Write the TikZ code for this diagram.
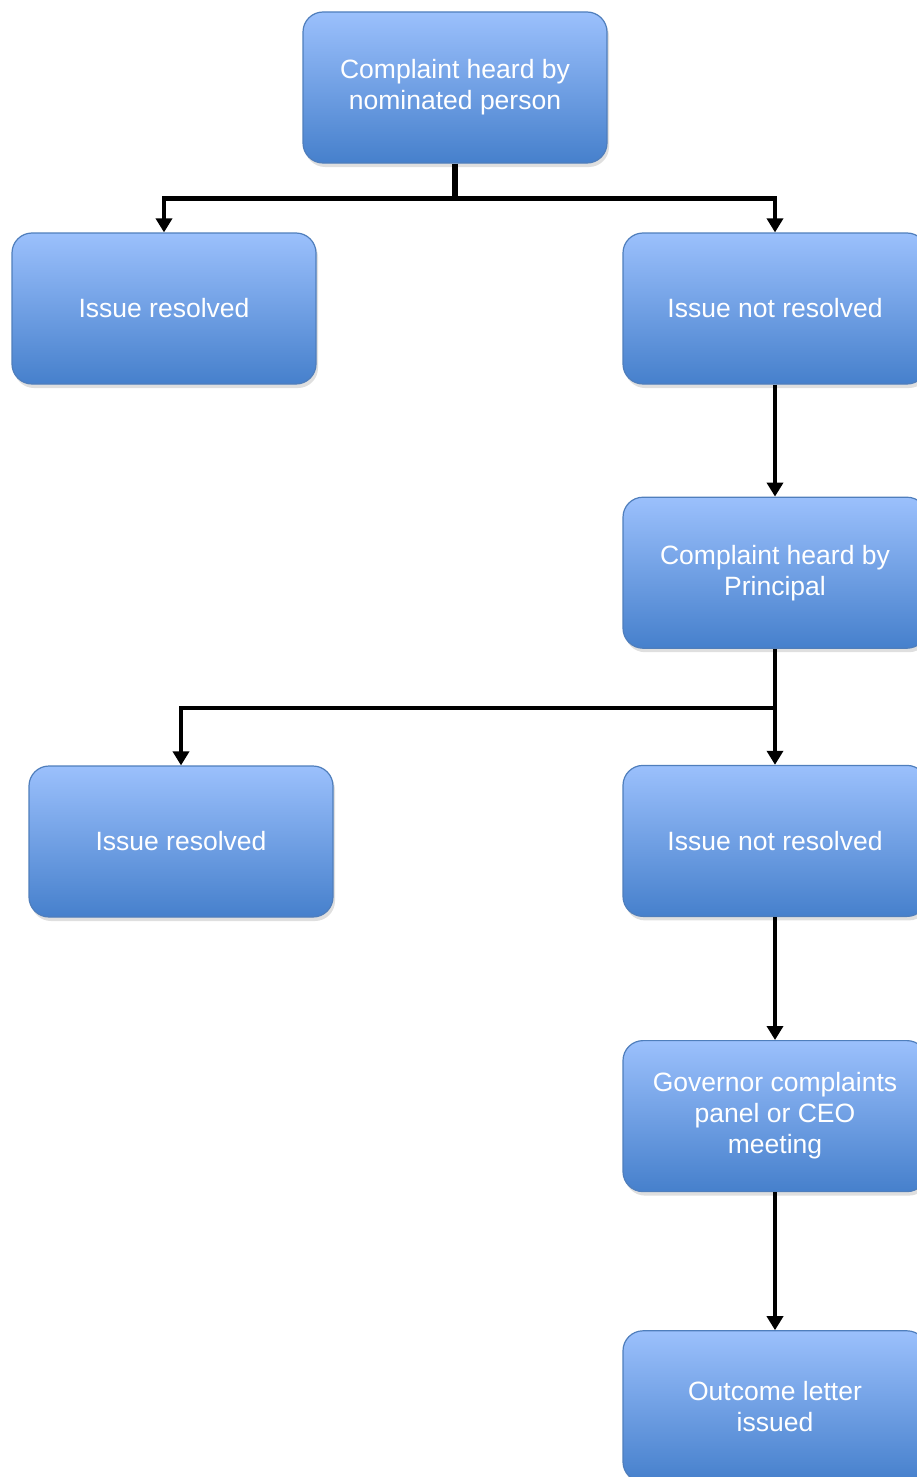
\documentclass[tikz,border=0pt]{standalone}
\usepackage{fontspec}
\setmainfont{Liberation Sans}
\usepackage{tikz}
\usetikzlibrary {arrows.meta,calc,positioning,shadows}
\definecolor{boxtop}{RGB}{155,192,252}
\definecolor{boxmid}{RGB}{118,161,229}
\definecolor{boxbot}{RGB}{70,128,204}
\definecolor{boxline}{RGB}{79,126,188}
\tikzset{stepnode/.style={
    % The shape:
    rectangle,rounded corners=20pt,
    % The size:
    minimum width=304pt,
    minimum height=151pt,
    inner sep=2pt,
    % The border:
    draw=boxline,line width=1.2pt,
    % The filling:
    top color=boxtop, middle color=boxmid, bottom color=boxbot,
    drop shadow={opacity=0.25,shadow xshift=2pt,shadow yshift=-4pt},
    % Font
    font=\fontsize{26.5}{31}\selectfont,
    text=white,
    align=center,
    },
    flowline/.style={
    line width=4.5pt,
    draw=black,
    -{Triangle[width=16pt,length=14pt]},
    },
}

\begin{document}
\begin{tikzpicture}[x=1pt,y=-1pt,node distance = 70pt and 5pt]
    \path[use as bounding box,clip] (0,0) rectangle (917,1477);

    \node (heard)    [stepnode] at (455,87.5)  {Complaint heard by\\nominated person};
    \node (resolved) [stepnode] at (164,308.5) {Issue resolved};
    \node (open)     [stepnode] at (775,308.5) {Issue not resolved};
    \node (principal) [stepnode,below=112pt of open]       {Complaint heard by\\Principal};
    \node (resolved2) [stepnode] at (181,841.5)            {Issue resolved};
    \node (open2)     [stepnode,below=116pt of principal]  {Issue not resolved};
    \node (panel)     [stepnode,below=123pt of open2]      {Governor complaints\\panel or CEO\\meeting};
    \node (letter)    [stepnode,below=138pt of panel]      {Outcome letter\\issued};

    \coordinate (split)  at ($(heard.south)+(0,35)$);
    \coordinate (split2) at ($(principal.south)+(0,59)$);

    \draw[line width=6pt] (heard.south) -- (split);
    \draw[flowline] (split) -| (resolved.north);
    \draw[flowline] (split) -| (open.north);
    \draw[flowline] (open) -- (principal);
    \draw[flowline] (principal.south) -- (open2.north);
    \draw[flowline] (split2) -| (resolved2.north);
    \draw[flowline] (open2) -- (panel);
    \draw[flowline] (panel) -- (letter);
  \end{tikzpicture}
\end{document}
